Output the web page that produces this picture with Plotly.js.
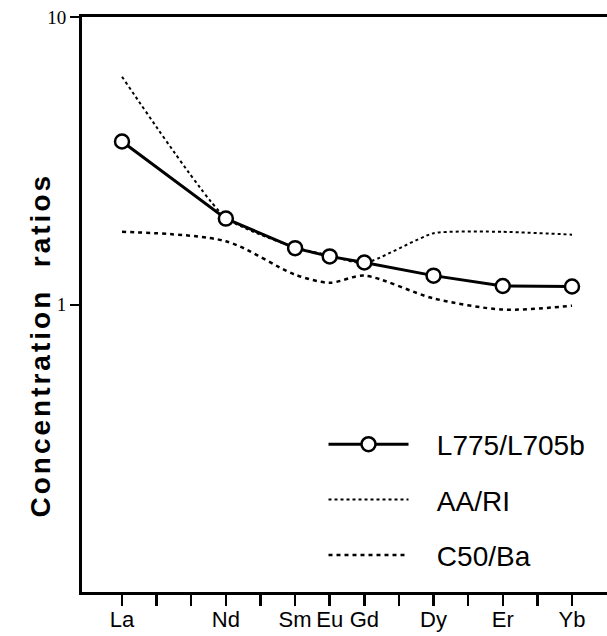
<!DOCTYPE html>
<html>
<head>
<meta charset="utf-8">
<script src="https://cdn.plot.ly/plotly-3.0.1.min.js"></script>
<style>
html,body{margin:0;padding:0;background:#fff;}
#chart{width:607px;height:636px;}
#chart .annotation-text{letter-spacing:3px;}
</style>
</head>
<body>
<div id="chart"></div>
<script>
// Rare-earth elements (atomic numbers) and labels
const elementNumbers = [57, 60, 62, 63, 64, 66, 68, 70];
const elementLabels = ["La", "Nd", "Sm", "Eu", "Gd", "Dy", "Er", "Yb"];
const allTickNumbers = [57, 58, 59, 60, 61, 62, 63, 64, 65, 66, 67, 68, 69, 70];
const allTickLabels = ["La", "", "", "Nd", "", "Sm", "Eu", "Gd", "", "Dy", "", "Er", "", "Yb"];

// Concentration ratios
const l775_l705b = [3.69, 1.99, 1.57, 1.47, 1.40, 1.26, 1.16, 1.155];
const aa_ri      = [6.2, 2.0, 1.58, 1.48, 1.39, 1.77, 1.79, 1.75];
const c50_ba     = [1.79, 1.66, 1.27, 1.19, 1.26, 1.05, 0.96, 0.99];

const seriesNames = ["L775/L705b", "AA/RI", "C50/Ba"];
const pad = "\u00a0\u00a0\u00a0";

const traces = [
  {
    x: elementNumbers, y: aa_ri, name: pad + seriesNames[1], type: "scatter", mode: "lines",
    line: {color: "#000", width: 2, dash: "dot", shape: "spline", smoothing: 0.5},
    legendrank: 2, legendgroup: "b"
  },
  {
    x: elementNumbers, y: c50_ba, name: pad + seriesNames[2], type: "scatter", mode: "lines",
    line: {color: "#000", width: 2.5, dash: "4px,4px", shape: "spline", smoothing: 0.8},
    legendrank: 3, legendgroup: "c"
  },
  {
    x: elementNumbers, y: l775_l705b, name: pad + seriesNames[0], type: "scatter", mode: "lines+markers",
    line: {color: "#000", width: 3},
    marker: {symbol: "circle", size: 14, color: "#fff", line: {color: "#000", width: 2.5}},
    legendrank: 1, legendgroup: "a"
  }
];

const layout = {
  width: 607, height: 636,
  margin: {l: 82, r: 0, t: 17, b: 44},
  paper_bgcolor: "#fff", plot_bgcolor: "#fff",
  showlegend: true,
  legend: {
    x: 0.46, y: 0.30, xanchor: "left", yanchor: "top",
    bgcolor: "rgba(0,0,0,0)",
    font: {family: "Liberation Sans, Arial, sans-serif", size: 28, color: "#000"},
    traceorder: "grouped", tracegroupgap: 16, itemwidth: 80
  },
  xaxis: {
    range: [55.844, 71.011],
    tickmode: "array", tickvals: allTickNumbers, ticktext: allTickLabels,
    tickangle: 0, ticklabelstandoff: -5,
    ticks: "outside", ticklen: 11, tickwidth: 2.5, tickcolor: "#000",
    showline: true, linecolor: "#000", linewidth: 3, mirror: true,
    showgrid: false, zeroline: false,
    tickfont: {family: "Liberation Sans, Arial, sans-serif", size: 22, color: "#000"}
  },
  yaxis: {
    type: "log", range: [-1, 1],
    tickmode: "array", tickvals: [1, 10], ticktext: ["1", "10"],
    ticks: "outside", ticklen: 9, tickwidth: 2, tickcolor: "#000",
    showline: true, linecolor: "#000", linewidth: 3, mirror: false,
    showgrid: false, zeroline: false,
    tickfont: {family: "Liberation Serif, Times New Roman, serif", size: 19, color: "#000"}
  },
  annotations: [{
    text: "Concentration\u00a0\u00a0ratios",
    xref: "paper", yref: "paper", x: -0.078, y: 0.4296,
    xanchor: "center", yanchor: "middle", textangle: -90, showarrow: false,
    font: {family: "Liberation Sans, Arial, sans-serif", size: 28, color: "#000", weight: "bold"}
  }]
};

Plotly.newPlot("chart", traces, layout, {staticPlot: true, displayModeBar: false});
</script>
</body>
</html>
